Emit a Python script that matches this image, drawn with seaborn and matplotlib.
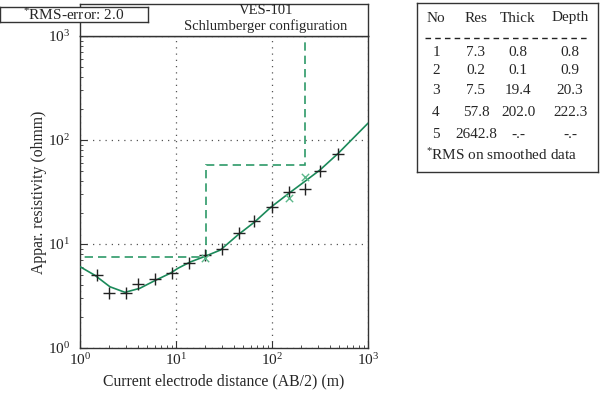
import matplotlib
matplotlib.use('Agg')
import pandas as pd
import matplotlib.pyplot as plt
import seaborn as sns

# field sounding data: half electrode spacing AB/2 (m) and apparent resistivity (ohmm)
ab2 = [1.5, 2, 3, 4, 6, 9, 13.5, 20, 30, 45, 65, 100, 150, 220, 320, 490]
rho_field = [5.0, 3.35, 3.35, 4.1, 4.6, 5.25, 6.6, 7.85, 8.95, 12.8, 16.6, 22.7, 31.5, 33.5, 50.0, 73.0]

# smoothed values (where they differ from the field data)
ab2_smooth = [20, 150, 220]
rho_smooth = [7.3, 27.5, 44.0]

# model response curve
ab2_curve = [1, 1.43, 2.05, 2.94, 4.2, 6.0, 8.7, 10.5, 14, 20, 29, 44, 66, 98, 147, 220, 316, 490, 1000]
rho_curve = [6.05, 5.0, 3.88, 3.43, 3.75, 4.44, 5.23, 5.85, 6.7, 7.6, 8.75, 12.2, 16.3, 22.7, 30.3, 40.0, 51.5, 74.5, 145]

# layered model table
layer_no = [1, 2, 3, 4, 5]
layer_res = [7.3, 0.2, 7.5, 57.8, 2642.8]
layer_thick = ['0.8', '0.1', '19.4', '202.0', '-.-']
layer_depth = ['0.8', '0.9', '20.3', '222.3', '-.-']
depths = [0.8, 0.9, 20.3, 222.3]

rms_error = 2.0

sns.set_style('ticks')
plt.rcParams['font.family'] = ['Liberation Serif', 'DejaVu Serif']
plt.rcParams['mathtext.fontset'] = 'custom'
plt.rcParams['mathtext.rm'] = 'Liberation Serif'
plt.rcParams['mathtext.it'] = 'Liberation Serif:italic'
plt.rcParams['font.size'] = 10.5

line_green = '#1b8a5a'
dash_green = '#2e9a68'
x_green = '#5cb88a'
edge = '#333333'

fig = plt.figure(figsize=(6, 3.94), dpi=100)
W, H = 600, 394

def px(x0, y0, x1, y1):
    return [x0 / W, 1 - y1 / H, (x1 - x0) / W, (y1 - y0) / H]

ax = fig.add_axes(px(80, 36, 368, 348))

curve = pd.DataFrame({'ab2': ab2_curve, 'rho': rho_curve})
field = pd.DataFrame({'ab2': ab2, 'rho': rho_field})
smooth = pd.DataFrame({'ab2': ab2_smooth, 'rho': rho_smooth})

edges = [0.01] + depths + [1e5]
ax.stairs(layer_res, edges, baseline=None, color=dash_green, ls=(0, (5, 3)), lw=1.2, zorder=2)
sns.lineplot(data=curve, x='ab2', y='rho', ax=ax, color=line_green, lw=1.2,
             estimator=None, sort=False, zorder=3)
sns.scatterplot(data=field, x='ab2', y='rho', ax=ax, marker='+', color='#222222',
                s=65, linewidth=1.0, zorder=4)
sns.scatterplot(data=smooth, x='ab2', y='rho', ax=ax, marker='x', color=x_green,
                s=28, linewidth=1.0, zorder=4)

ax.set_xscale('log')
ax.set_yscale('log')
ax.set_xlim(1, 1000)
ax.set_ylim(1, 1000)
ax.grid(which='major', ls=(0, (1, 4)), color='#555555', lw=0.9)
ax.tick_params(which='both', direction='in', top=False, right=False, colors=edge,
               labelcolor='#222222', labelsize=11)
ax.tick_params(which='major', length=5, pad=3)
ax.tick_params(axis='y', which='major', pad=7)
ax.tick_params(which='minor', length=2.5)
for s in ax.spines.values():
    s.set_color(edge)
    s.set_linewidth(1.0)
ax.set_xlabel('Current electrode distance (AB/2) (m)', fontsize=11.3, labelpad=4)
ax.set_ylabel('Appar. resistivity (ohmm)', fontsize=11.3, labelpad=4)
ax.yaxis.set_label_coords(-0.115, 0.5)

# header box
axh = fig.add_axes(px(80, 4, 368, 36))
axh.set_xticks([])
axh.set_yticks([])
for s in axh.spines.values():
    s.set_color(edge)
    s.set_linewidth(1.0)
axh.text(0.646, 0.80, 'VES-101', ha='center', va='center', transform=axh.transAxes, fontsize=10.5)
axh.text(0.646, 0.30, 'Schlumberger configuration', ha='center', va='center',
         transform=axh.transAxes, fontsize=10.5)

# rms box
axr = fig.add_axes(px(0, 7, 148, 22))
axr.set_zorder(5)
axr.set_xticks([])
axr.set_yticks([])
for s in axr.spines.values():
    s.set_color(edge)
    s.set_linewidth(1.0)
axr.text(0.5, 0.45, r'$^{*}$RMS-error: %.1f' % rms_error, ha='center', va='center',
         transform=axr.transAxes, fontsize=11)

# model table
axt = fig.add_axes(px(417, 3, 598, 172))
axt.set_xticks([])
axt.set_yticks([])
axt.set_xlim(417, 598)
axt.set_ylim(172, 3)
for s in axt.spines.values():
    s.set_color(edge)
    s.set_linewidth(1.0)
cols_x = [436, 476, 518, 570]
for cx, name in zip(cols_x, ['No', 'Res', 'Thick', 'Depth']):
    axt.text(cx, 18, name, ha='center', va='center', fontsize=11)
axt.plot([425, 587], [38, 38], color='#222222', lw=1.0, ls=(0, (4, 3)))
rows_y = [52, 71, 91, 112, 134]
for ry, n, r, t, d in zip(rows_y, layer_no, layer_res, layer_thick, layer_depth):
    axt.text(cols_x[0], ry, str(n), ha='center', va='center', fontsize=11)
    axt.text(cols_x[1], ry, '%.1f' % r, ha='center', va='center', fontsize=11)
    axt.text(cols_x[2], ry, t, ha='center', va='center', fontsize=11)
    axt.text(cols_x[3], ry, d, ha='center', va='center', fontsize=11)
axt.text(426, 155, r'$^{*}$RMS on smoothed data', ha='left', va='center', fontsize=11)

fig.savefig('out.png', dpi=100)
